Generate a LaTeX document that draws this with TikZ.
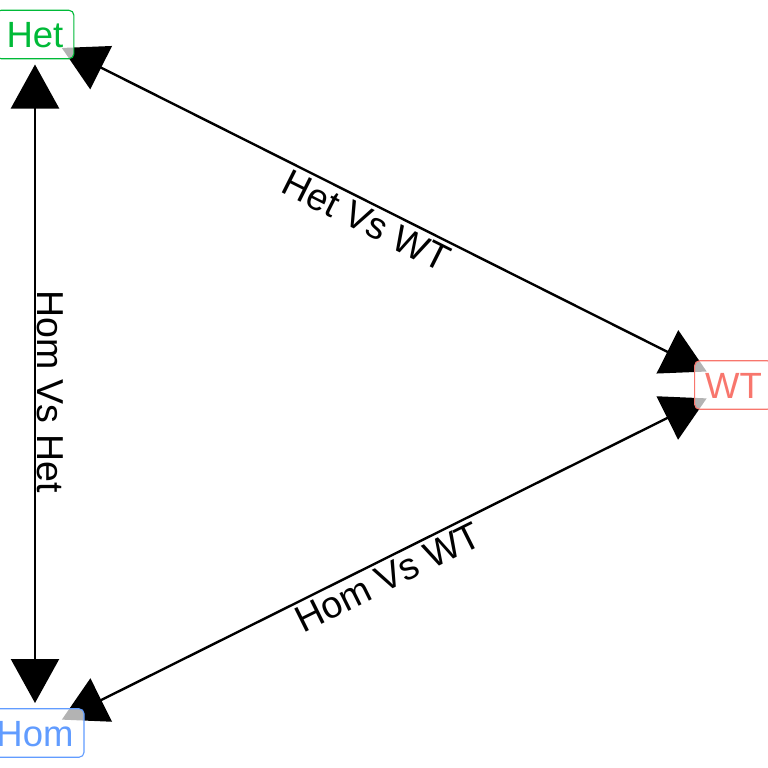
\documentclass[tikz,border=0pt]{standalone}
\usepackage{fontspec}
\setmainfont{Liberation Sans}
\usetikzlibrary{arrows.meta,backgrounds,calc}
\definecolor{hetc}{HTML}{00BA38}
\definecolor{wtc}{HTML}{F8766D}
\definecolor{homc}{HTML}{619CFF}
\begin{document}
\begin{tikzpicture}[x=1pt,y=-1pt,
  lbl/.style={draw=#1, text=#1, fill=white, fill opacity=0.7, text opacity=1, draw opacity=1,
    rounded corners=5pt, line width=1.1pt, inner xsep=10.5pt, inner ysep=11pt,
    text height=26.5pt, text depth=0pt, font=\fontsize{36.5}{40}\selectfont},
  conn/.style={line width=2.4pt, {Triangle[length=44pt,width=48pt]}-{Triangle[length=44pt,width=48pt]},
    shorten <=30pt, shorten >=30pt},
  elbl/.style={font=\fontsize{37.5}{42}\selectfont, sloped, text=black}]
\useasboundingbox (0,0) rectangle (768,768);
\node[lbl=hetc] (het) at (35,34.5) {Het};
\node[lbl=wtc] (wt) at (733.5,385) {WT};
\node[lbl=homc] (hom) at (35,733) {Hom};
\begin{scope}[on background layer]
\draw[conn] (het.center) -- (wt.center)
  node[elbl, pos=0.486, below, inner sep=4pt] (l1) {Het Vs WT};
\draw[conn] (hom.center) -- (wt.center)
  node[elbl, pos=0.494, below, inner sep=4pt] (l2) {Hom Vs WT};
\draw[conn] (het.center) -- (hom.center)
  node[elbl, pos=0.511, above, inner sep=0.5pt] (l3) {Hom Vs Het};
\end{scope}
\end{tikzpicture}
\end{document}
